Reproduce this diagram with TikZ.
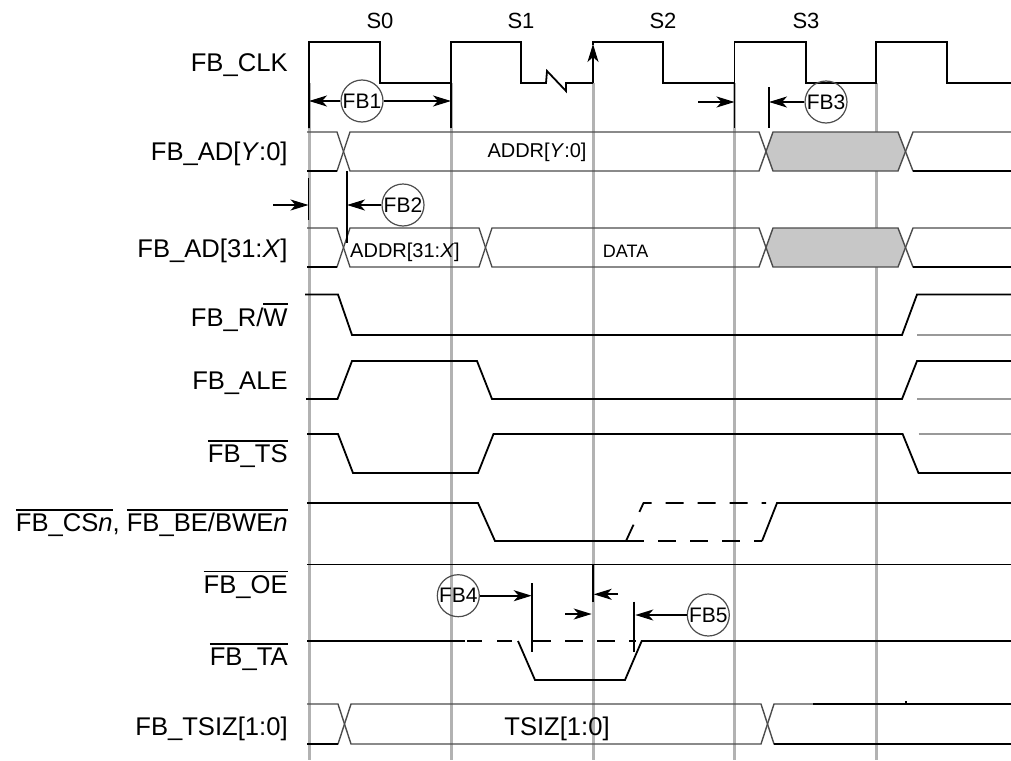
\documentclass[tikz,border=0pt]{standalone}
\usepackage{fontspec}
\setmainfont{Liberation Sans}
\usetikzlibrary{arrows.meta,positioning}

% bar over an active-low name
\newcommand\ovl[1]{\setbox0\hbox{#1}\rlap{\rule[\dimexpr\fontcharht\font`T+1.6pt\relax]{\wd0}{0.9pt}}\box0}

\begin{document}
\begin{tikzpicture}[x=0.5pt,y=-0.5pt,
  siglabel/.style={inner sep=0pt,anchor=base east,font=\fontsize{12.8}{15}\selectfont},
  buslabel/.style={inner sep=0pt,anchor=base,font=\fontsize{10}{12}\selectfont},
  phaselabel/.style={inner sep=0pt,font=\fontsize{11}{13}\selectfont},
  fbtag/.style={circle,draw=black!70,line width=0.6pt,minimum size=21pt,inner sep=0pt,font=\fontsize{10.5}{12}\selectfont},
  sigline/.style={line width=0.9pt},
  busline/.style={draw=black!70,line width=0.7pt},
  gridline/.style={black!30,line width=1.5pt},
  edgeline/.style={line width=0.9pt},
  altline/.style={sigline,dash pattern=on 9pt off 7pt},
  ghost/.style={black!40,line width=0.6pt},
  >={Stealth[length=9pt,width=5.5pt,inset=2.5pt]}]

  \useasboundingbox (0,0) rectangle (1011,760);

  % Clock grid
  \foreach \x in {309,451,593,734.5,876}
    \draw[gridline] (\x,83) -- (\x,760);

  % States
  \node[phaselabel] (s0) at (380,21) {S0};
  \node[phaselabel] (s1) at (521,21) {S1};
  \node[phaselabel] (s2) at (663,21) {S2};
  \node[phaselabel] (s3) at (806,21) {S3};

  % Signal names
  \node[siglabel] (nclk) at (288,71.3) {FB\_CLK};
  \node[siglabel] (nady) at (288,160) {FB\_AD[\textit{Y}:0]};
  \node[siglabel] (nadx) at (288,257) {FB\_AD[31:\textit{X}]};
  \node[siglabel] (nrw) at (288,326) {FB\_R/\ovl{W}};
  \node[siglabel] (nale) at (288,389.6) {FB\_ALE};
  \node[siglabel] (nts) at (288,462.6) {\ovl{FB\_TS}};
  \node[siglabel] (ncs) at (288,531.6) {\ovl{FB\_CS\textit{n}}, \ovl{FB\_BE/BWE\textit{n}}};
  \node[siglabel] (noe) at (288,593.3) {\ovl{FB\_OE}};
  \node[siglabel] (nta) at (288,665.8) {\ovl{FB\_TA}};
  \node[siglabel] (ntsiz) at (288,735.8) {FB\_TSIZ[1:0]};

  % FB_CLK
  \draw[sigline] (309,128) -- (309,42) -- (380,42) -- (380,83) -- (451,83) -- (451,42) -- (521,42) -- (521,83)
    -- (546,83) -- (547,71) -- (566,91) -- (566,83) -- (593,83);
  \draw[sigline] (593,45) -- (593,42) -- (663,42) -- (663,83) -- (734.5,83) -- (734.5,42) -- (806,42) -- (806,83)
    -- (876,83) -- (876,42) -- (947,42) -- (947,83) -- (1011,83);
  \draw[sigline,->] (593,83) -- (593,44);

  % FB1, FB3
  \draw[edgeline] (451,83) -- (451,128);
  \draw[edgeline] (734.5,83) -- (734.5,128);
  \draw[edgeline] (769,87) -- (769,128);
  \node[fbtag] (fb1) at (362,101) {FB1};
  \coordinate (fb1a) at (309,101);
  \coordinate (fb1b) at (451,101);
  \draw[edgeline,->] (fb1) -- (fb1a);
  \draw[edgeline,->] (fb1) -- (fb1b);
  \node[fbtag] (fb3) at (826,102) {FB3};
  \coordinate (fb3a) at (698,102);
  \coordinate (fb3b) at (734.5,102);
  \coordinate (fb3c) at (769,102);
  \draw[edgeline,->] (fb3a) -- (fb3b);
  \draw[edgeline,->] (fb3) -- (fb3c);

  % FB_AD[Y:0]
  \fill[black!22] (766,151.5) -- (773,132) -- (898,132) -- (905.5,151.5) -- (898,171) -- (773,171) -- cycle;
  \draw[busline] (307,132) -- (337,132) -- (350,171) -- (759,171) -- (773,132) -- (898,132) -- (913,171) -- (1011,171);
  \draw[busline] (307,171) -- (337,171) -- (350,132) -- (759,132) -- (773,171) -- (898,171) -- (913,132) -- (1011,132);
  \draw[sigline] (307,171) -- (337,171);
  \draw[sigline] (913,171) -- (1011,171);
  \node[buslabel] (addry) at (537,157) {ADDR[\textit{Y}:0]};

  % FB2
  \draw[edgeline] (308.5,178) -- (308.5,220);
  \node[fbtag] (fb2) at (403,205) {FB2};
  \coordinate (fb2a) at (273,205);
  \coordinate (fb2b) at (308.5,205);
  \coordinate (fb2c) at (347,205);
  \draw[edgeline,->] (fb2a) -- (fb2b);
  \draw[edgeline,->] (fb2) -- (fb2c);

  % FB_AD[31:X]
  \fill[black!22] (766,247.5) -- (773,228) -- (898,228) -- (905.5,247.5) -- (898,267) -- (773,267) -- cycle;
  \draw[busline] (307,228) -- (337,228) -- (350,267) -- (479,267) -- (492,228) -- (759,228) -- (773,267) -- (898,267) -- (913,228) -- (1011,228);
  \draw[busline] (307,267) -- (337,267) -- (350,228) -- (479,228) -- (492,267) -- (759,267) -- (773,228) -- (898,228) -- (913,267) -- (1011,267);
  \draw[sigline] (307,267) -- (337,267);
  \draw[sigline] (913,267) -- (1011,267);
  \draw[edgeline] (347,171) -- (347,243);
  \node[buslabel] (addrx) at (405,257) {ADDR[31:\textit{X}]};
  \node[buslabel,font=\fontsize{9}{11}\selectfont] (data) at (625.6,257) {DATA};

  % FB_R/W, FB_ALE, FB_TS
  \draw[sigline] (305,294.5) -- (338,294.5) -- (352,335) -- (902,335) -- (917,294.5) -- (1011,294.5);
  \draw[ghost] (917,335) -- (1011,335);
  \draw[sigline] (306,399) -- (337.5,399) -- (352,361) -- (477,361) -- (492,399) -- (902,399) -- (917,361) -- (1011,361);
  \draw[ghost] (917,399) -- (1011,399);
  \draw[sigline] (307,434) -- (338,434) -- (353,473) -- (478,473) -- (493.5,434) -- (902.6,434) -- (918.5,473) -- (1011,473);
  \draw[ghost] (918.5,434) -- (1011,434);

  % FB_CSn, FB_BE/BWEn
  \draw[sigline] (307,503) -- (478,503) -- (495,541) -- (626,541);
  \draw[altline] (626,541) -- (643.5,503) -- (766,503);
  \draw[altline] (626,541) -- (762,541);
  \draw[sigline] (762,541) -- (777,503) -- (1011,503);

  % FB_OE
  \draw[sigline] (307,564.5) -- (1011,564.5);

  % FB_TA
  \draw[sigline] (307,641) -- (465,641);
  \draw[sigline,dash pattern=on 7.5pt off 7.5pt] (467,641) -- (518,641);
  \draw[sigline] (518,641) -- (535,680) -- (625,680) -- (641.7,641) -- (1011,641);
  \draw[altline] (533,641) -- (636,641);

  % FB4, FB5
  \draw[edgeline] (531.7,583) -- (531.7,651.7);
  \draw[edgeline] (592.7,564.5) -- (592.7,601.7);
  \draw[edgeline] (634.3,601.7) -- (634.3,651.7);
  \node[fbtag] (fb4) at (458.3,595.7) {FB4};
  \coordinate (fb4a) at (531.7,595.7);
  \draw[edgeline,->] (fb4) -- (fb4a);
  \coordinate (oea) at (618,594.3);
  \coordinate (oeb) at (593.7,594.3);
  \draw[edgeline,->] (oea) -- (oeb);
  \coordinate (oec) at (565,614);
  \coordinate (oed) at (591.7,614);
  \draw[edgeline,->] (oec) -- (oed);
  \node[fbtag] (fb5) at (708.3,615) {FB5};
  \coordinate (fb5a) at (635.3,615);
  \draw[edgeline,->] (fb5) -- (fb5a);

  % FB_TSIZ[1:0]
  \draw[busline] (307,704) -- (338,704) -- (351,744) -- (761,744) -- (774,704) -- (1011,704);
  \draw[busline] (307,744) -- (338,744) -- (351,704) -- (761,704) -- (774,744) -- (1011,744);
  \draw[sigline] (307,744) -- (338,744);
  \draw[sigline] (774,744) -- (1011,744);
  \draw[sigline] (813,704) -- (1011,704);
  \draw[sigline] (906,701) -- (906,704);
  \node[buslabel,font=\fontsize{12.8}{15}\selectfont] (tsiz) at (557,735.7) {TSIZ[1:0]};

\end{tikzpicture}
\end{document}
